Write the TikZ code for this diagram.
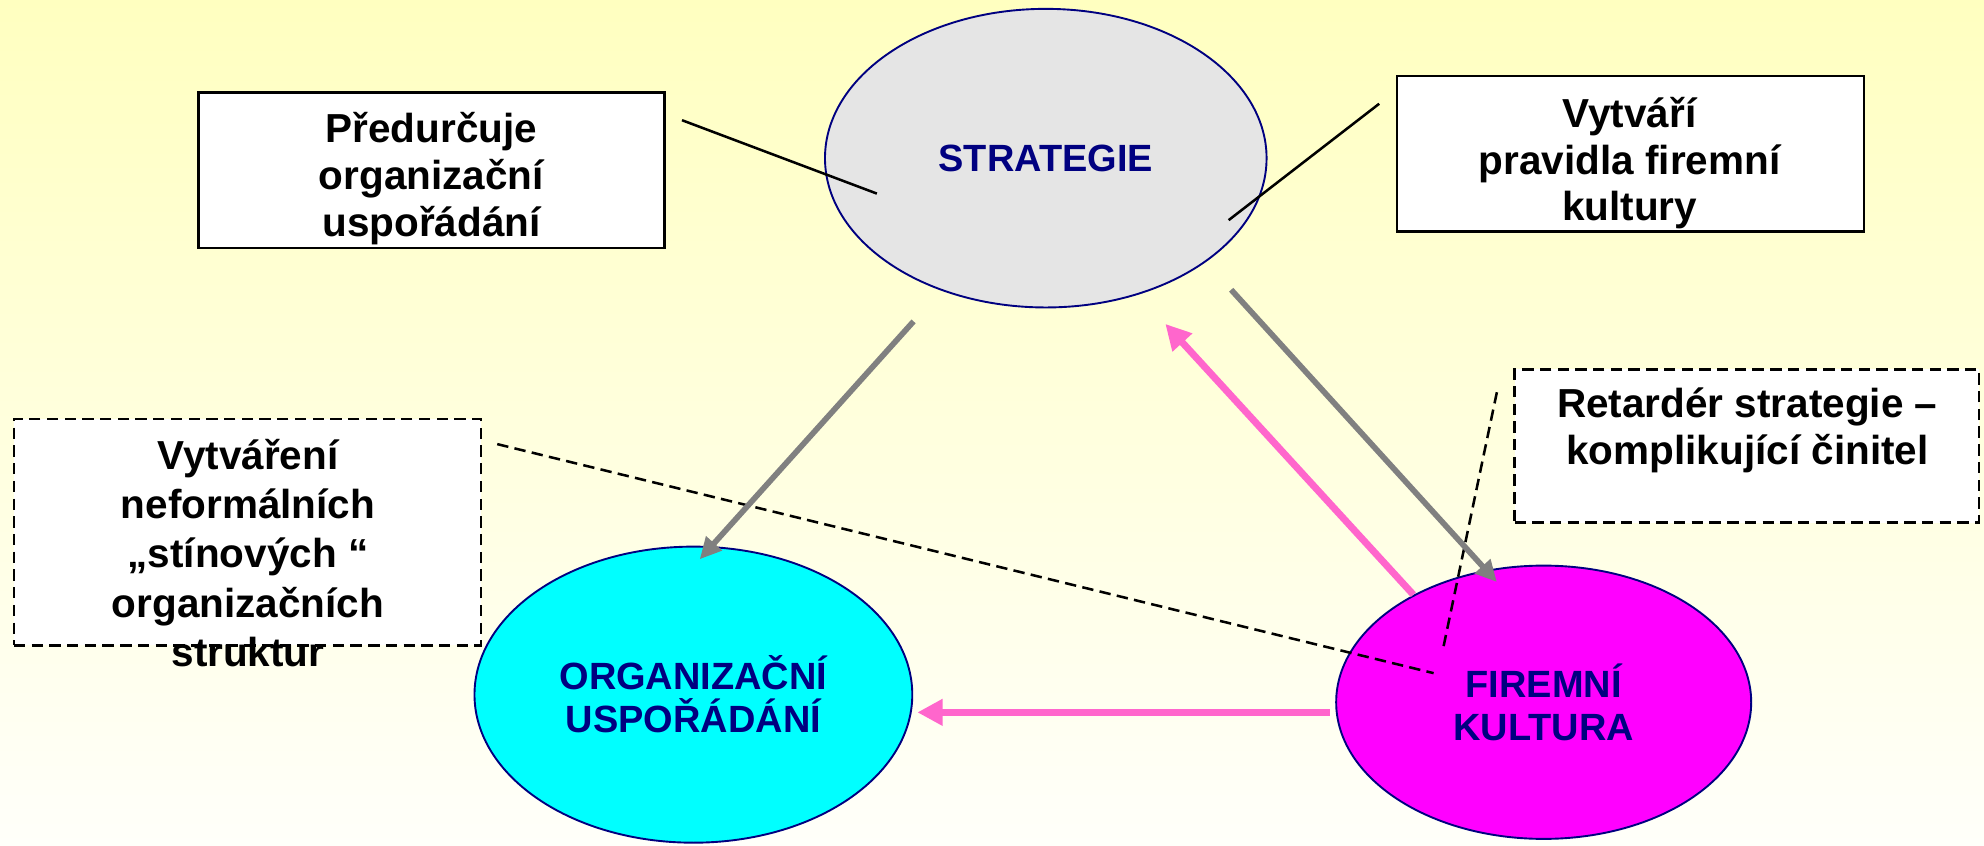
\documentclass[tikz,border=0pt]{standalone}
\usepackage{fontspec}
\setmainfont{Liberation Sans}
\usetikzlibrary{shapes.geometric,arrows.meta}
\definecolor{bgtop}{RGB}{255,255,192}
\definecolor{bgbot}{RGB}{255,255,250}
\definecolor{navyline}{RGB}{0,0,128}
\definecolor{ellgray}{RGB}{229,229,229}
\definecolor{ellcyan}{RGB}{0,255,255}
\definecolor{ellmag}{RGB}{255,0,255}
\definecolor{arrgray}{RGB}{128,128,128}
\definecolor{arrpink}{RGB}{255,102,204}
\begin{document}
\begin{tikzpicture}[x=1pt,y=-1pt,
  ell/.style={ellipse,draw=navyline,line width=1.5pt,inner sep=0pt,text=navyline,align=center,font=\fontsize{30}{34}\selectfont\bfseries},
  boxsolid/.style={rectangle,draw=black,line width=2pt,fill=white,inner sep=0pt},
  boxdash/.style={rectangle,draw=black,line width=2pt,dash pattern=on 9pt off 5pt,fill=white,inner sep=0pt},
  boxtext/.style={align=center,font=\fontsize{32}{37}\selectfont\bfseries,inner sep=0pt},
  grayarrow/.style={draw=arrgray,line width=4.5pt,-{Triangle[length=17pt,width=16pt]}},
  pinkarrow/.style={draw=arrpink,line width=5.5pt,-{Triangle[length=20pt,width=20pt]}},
  leader/.style={draw=black,line width=2pt},
  dashleader/.style={draw=black,line width=2pt,dash pattern=on 9pt off 5pt},
]
\useasboundingbox (0,0) rectangle (1568,668);
\shade[top color=bgtop,bottom color=bgbot] (0,0) rectangle (1568,668);

% boxes
\node[boxsolid,minimum width=368pt,minimum height=123pt] (b1) at (341,134.5) {};
\node[boxsolid,minimum width=369pt,minimum height=123pt] (b2) at (1288.5,121.5) {};
\node[boxdash,minimum width=367pt,minimum height=121pt] (b3) at (1380.5,352.5) {};
\node[boxdash,minimum width=369pt,minimum height=179pt] (b4) at (195.5,420.5) {};

% ellipses
\node[ell,fill=ellgray,minimum width=349pt,minimum height=236pt] (strat) at (826.5,125) {STRATEGIE};
\node[ell,fill=ellcyan,minimum width=346pt,minimum height=234pt] (org) at (548,549) {ORGANIZAČNÍ\\USPOŘÁDÁNÍ};
\node[ell,fill=ellmag,minimum width=328pt,minimum height=216pt] (fir) at (1220,555) {FIREMNÍ\\KULTURA};

% connector end points
\coordinate (s1a) at (539,95);   \coordinate (s1b) at (693,153);
\coordinate (s2a) at (1090,82);  \coordinate (s2b) at (971,174);
\coordinate (g1a) at (722,254);  \coordinate (g1b) at (553,442);
\coordinate (g2a) at (973,229);  \coordinate (g2b) at (1183,460);
\coordinate (p1a) at (1117,470); \coordinate (p1b) at (921,256);
\coordinate (p2a) at (1051,563); \coordinate (p2b) at (725,563);
\coordinate (d1a) at (393,351);  \coordinate (d1b) at (1133,532);
\coordinate (d2a) at (1183,310); \coordinate (d2b) at (1140,515);

% box texts
\node[boxtext] (t1) at (341,141) {Předurčuje\\organizační\\uspořádání};
\node[boxtext] (t2) at (1288,129) {Vytváří\\pravidla firemní\\kultury};
\node[boxtext] (t3) at (1381,340) {Retardér strategie –\\komplikující činitel};
\node[boxtext,font=\fontsize{32}{39}\selectfont\bfseries] (t4) at (196,437) {Vytváření\\neformálních\\„stínových “\\organizačních\\struktur};

% connectors
\draw[leader] (s1a) -- (s1b);
\draw[leader] (s2a) -- (s2b);
\draw[dashleader] (d1a) -- (d1b);
\draw[dashleader] (d2a) -- (d2b);
\draw[grayarrow] (g1a) -- (g1b);
\draw[grayarrow] (g2a) -- (g2b);
\draw[pinkarrow] (p1a) -- (p1b);
\draw[pinkarrow] (p2a) -- (p2b);
\end{tikzpicture}
\end{document}
